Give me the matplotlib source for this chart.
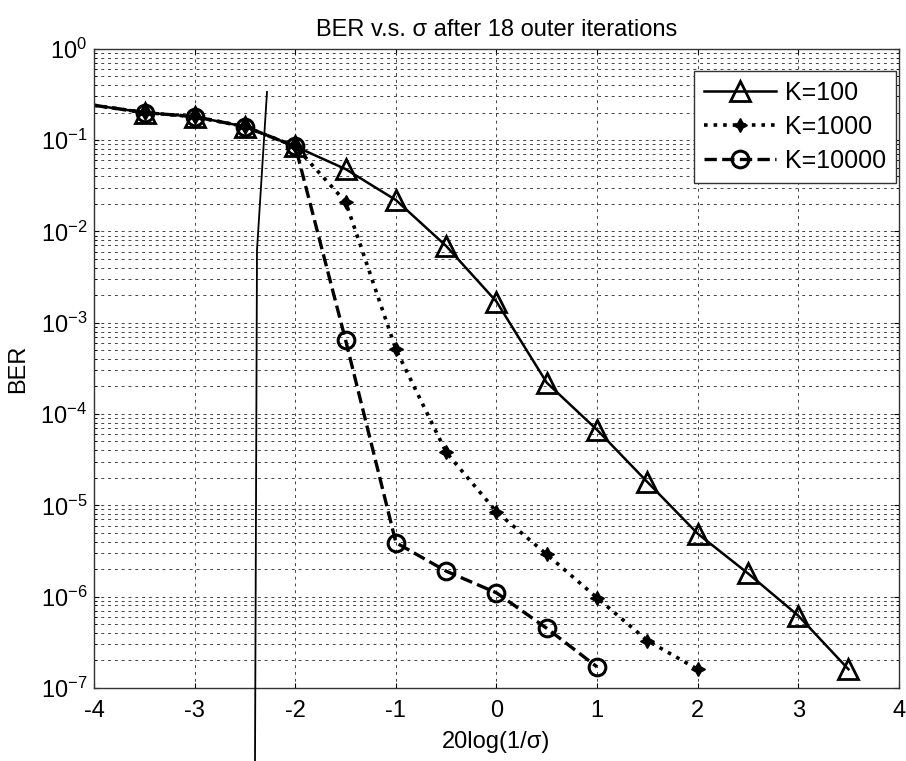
import matplotlib
matplotlib.use("Agg")
import matplotlib.pyplot as plt
from matplotlib.lines import Line2D
import numpy as np

plt.rcParams['font.family'] = ['Liberation Sans', 'DejaVu Sans']
plt.rcParams['mathtext.fontset'] = 'custom'
plt.rcParams['mathtext.rm'] = 'Liberation Sans'
plt.rcParams['mathtext.it'] = 'Liberation Sans:italic'
plt.rcParams['axes.unicode_minus'] = False

# data (first point at x=-4 has no marker)
x_k100 = [-4, -3.5, -3, -2.5, -2, -1.5, -1, -0.5, 0, 0.5, 1, 1.5, 2, 2.5, 3, 3.5]
ber_k100 = [0.24, 0.2, 0.18, 0.14, 0.085, 0.048, 0.022, 6.9e-3, 1.7e-3, 2.2e-4,
            6.7e-5, 1.8e-5, 4.9e-6, 1.8e-6, 6.2e-7, 1.6e-7]

x_k1000 = [-4, -3.5, -3, -2.5, -2, -1.5, -1, -0.5, 0, 0.5, 1, 1.5, 2]
ber_k1000 = [0.24, 0.2, 0.18, 0.14, 0.085, 0.021, 5.1e-4, 3.8e-5, 8.5e-6, 2.9e-6,
             9.7e-7, 3.3e-7, 1.6e-7]

x_k10000 = [-4, -3.5, -3, -2.5, -2, -1.5, -1, -0.5, 0, 0.5, 1]
ber_k10000 = [0.24, 0.2, 0.18, 0.14, 0.085, 6.4e-4, 3.9e-6, 1.9e-6, 1.1e-6, 4.5e-7, 1.7e-7]

labels = ['K=100', 'K=1000', 'K=10000']

fig = plt.figure(figsize=(9.06, 7.61), dpi=100)
ax = fig.add_axes([0.104, 0.096, 0.888, 0.840])

ax.semilogy(x_k100, ber_k100, 'k-', lw=1.8, marker='^', ms=15, mfc='none', mew=2,
            markevery=slice(1, None), label=labels[0])
ax.semilogy(x_k1000, ber_k1000, 'k:', lw=2.6, marker=(4, 1, 0), ms=10, mfc='k', mew=1,
            markevery=slice(1, None), label=labels[1])
ax.semilogy(x_k10000, ber_k10000, 'k--', lw=2.4, marker='o', ms=12, mfc='none', mew=2.2,
            markevery=slice(1, None), label=labels[2])

ax.set_xlim(-4, 4)
ax.set_ylim(1e-7, 1)
ax.set_xticks(np.arange(-4, 5, 1))
ax.set_yticks([10.0 ** p for p in range(-7, 1)])

ax.grid(True, which='major', color='#444444', ls=(0, (3, 4)), lw=0.7)
ax.grid(True, which='minor', axis='y', color='#444444', ls=(0, (3, 4)), lw=0.7)
ax.tick_params(which='both', direction='in', labelsize=17, top=True, right=True)
ax.tick_params(axis='x', pad=9)
ax.tick_params(axis='y', pad=5)
ax.tick_params(which='minor', length=2)
for s in ax.spines.values():
    s.set_linewidth(1.0)
    s.set_color('#333333')

ax.set_title('BER v.s. σ after 18 outer iterations', fontsize=17, pad=9)
ax.set_xlabel('20log(1/σ)', fontsize=17, labelpad=6)
ax.set_ylabel('BER', fontsize=17, labelpad=8)

leg = ax.legend(loc='upper right', bbox_to_anchor=(0.997, 0.965), borderaxespad=0,
                fontsize=18, handlelength=2.9, handletextpad=0.35, labelspacing=0.4,
                fancybox=False, edgecolor='#333333', framealpha=1)
leg.get_frame().set_linewidth(1.0)

# pen stroke across the scanned page
pen_x = [267, 257, 255]
pen_y = [92, 250, 761]
fig.add_artist(Line2D([v / 906 for v in pen_x], [1 - v / 761 for v in pen_y],
                      color='k', lw=1.3))

fig.savefig('out.png', dpi=100)
